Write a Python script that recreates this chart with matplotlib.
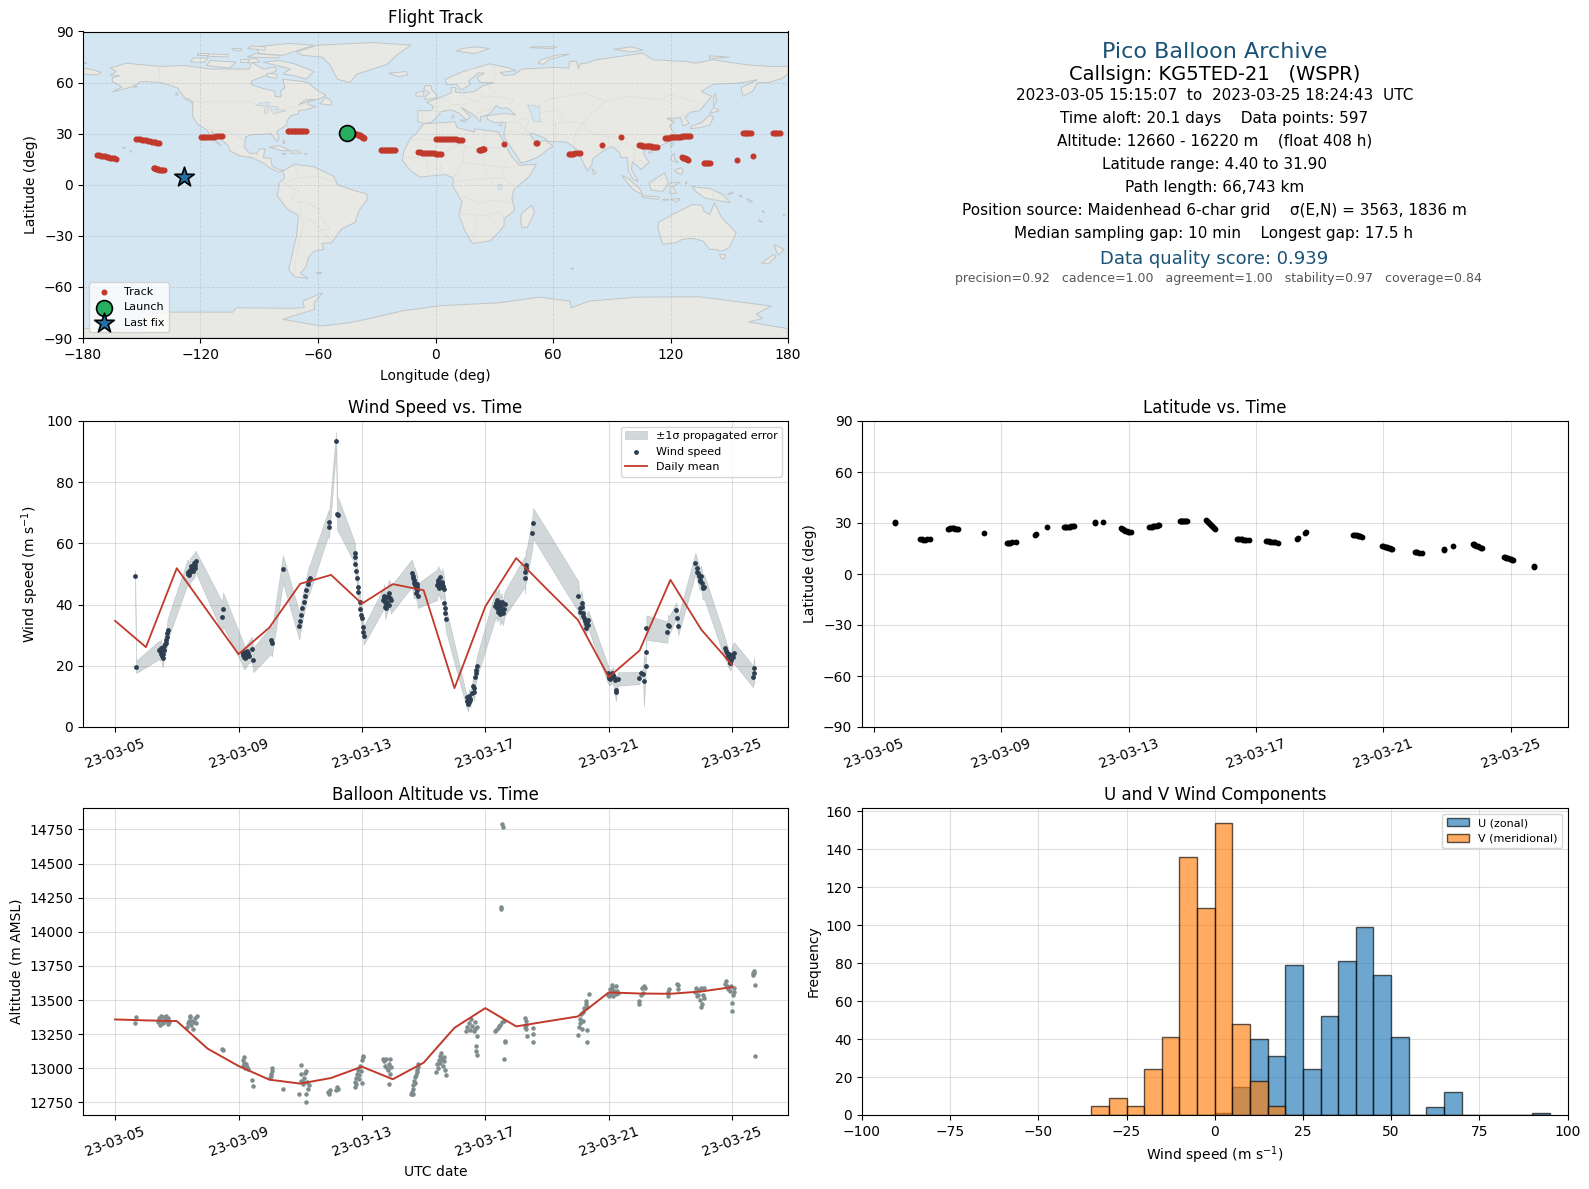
from datetime import datetime, timedelta

import matplotlib
matplotlib.use("Agg")
import matplotlib.dates as mdates
import matplotlib.pyplot as plt
from matplotlib.patches import Polygon

W, H = 1589, 1189
START = datetime(2023, 3, 5)

# ---- land outlines (lon, lat)
LAND = [
    # north america
    [(-166, 64.5), (-163, 66.5), (-166, 68.5), (-158, 71.4), (-141, 69.5), (-128, 70), (-115, 68), (-108, 68), (-95, 68),
     (-94, 72), (-88, 68), (-82, 69), (-81, 67), (-87, 64), (-94, 61), (-94, 58.8), (-88, 56.5), (-82, 55), (-82, 52),
     (-79, 51.5), (-79, 55), (-77, 57), (-78, 62), (-70, 61), (-65, 60), (-61, 56), (-56, 52.5), (-60, 50), (-66, 50),
     (-70, 47), (-65, 49), (-65, 47), (-61, 46), (-66, 44), (-70, 43.5), (-70, 41.7), (-74, 40.5), (-76, 37), (-76, 35),
     (-81, 31.5), (-80, 27), (-81, 25.3), (-82, 27), (-84, 30), (-90, 29.5), (-94, 29.5), (-97, 28), (-97.5, 22),
     (-95, 18.5), (-91, 18.5), (-90, 21), (-87, 21), (-88, 16), (-84, 15.5), (-83.5, 11), (-80, 9), (-77, 8.5), (-80, 7.5),
     (-85, 10), (-88, 13), (-94, 16), (-100, 17), (-105, 20), (-106, 23), (-112, 29), (-114.5, 31.5), (-113, 28), (-109.7, 22.8),
     (-112, 25), (-115, 29), (-117, 32.5), (-121, 35), (-124, 40), (-124, 48), (-128, 51), (-132, 57), (-140, 60),
     (-150, 60.7), (-155, 57.5), (-165, 54.5), (-160, 57.5), (-165, 60.5), (-165, 63), (-161, 64)],
    # greenland
    [(-71, 78), (-60, 82), (-32, 83.5), (-12.5, 82), (-20, 76), (-25, 70.5), (-32, 68), (-40, 65), (-44, 60), (-50, 62), (-54, 70.5), (-58, 75), (-68, 76)],
    # arctic canada, newfoundland, caribbean, hawaii
    [(-80, 73), (-72, 71), (-62, 66.5), (-66, 62), (-72, 64), (-78, 65), (-74, 68), (-88, 72)],
    [(-117, 70), (-105, 68.5), (-102, 72), (-115, 73)],
    [(-90, 77), (-78, 76), (-62, 82), (-75, 83), (-92, 81)],
    [(-125, 72), (-118, 72), (-116, 74.5), (-124, 74.5)],
    [(-96, 75), (-80, 74.5), (-80, 76), (-92, 77)],
    [(-117, 75.5), (-106, 75), (-106, 76.5), (-116, 76.8)],
    [(-96, 80), (-87, 79), (-87, 81), (-94, 81.5)],
    [(-103, 79), (-99, 78.5), (-99, 80), (-104, 80)],
    [(-100, 72), (-96, 72), (-96, 74), (-100, 74)],
    [(-96, 71.5), (-90, 72), (-91, 74), (-95, 74)],
    [(-86, 63.5), (-81, 62.5), (-81, 65), (-86, 65.5)],
    [(-122, 76), (-116, 76), (-116, 77.5), (-122, 77.5)],
    [(-59, 47.5), (-53, 46.8), (-53, 49), (-56, 51.5)],
    [(-64.5, 49), (-62, 49.5), (-64, 50)],
    [(-128, 50.5), (-125, 48.5), (-123.5, 48.5), (-126, 50.5)],
    [(-133, 53), (-131.5, 52.5), (-132, 54)],
    [(-85, 22), (-80, 23), (-74, 20), (-78, 20)],
    [(-74, 18.5), (-68.5, 18.5), (-70, 20), (-73, 20)],
    [(-78.5, 18), (-76.2, 18), (-77, 18.6)],
    [(-67, 18), (-65.5, 18), (-66, 18.5)],
    [(-78, 25), (-77, 24), (-77.5, 26.5)],
    [(-156, 19), (-155, 19.7), (-156, 20.2)],
    [(-159.8, 21.8), (-158, 21.3), (-158.5, 22)],
    [(-154, 57.3), (-152.3, 57.5), (-153, 58.2)],
    # south america
    [(-78, 8), (-72, 12), (-62, 10.5), (-52, 5), (-50, 0), (-44, -2.5), (-35, -5.5), (-35, -9), (-39, -15), (-41, -22),
     (-48, -26), (-53, -34), (-58, -34.5), (-57, -38), (-62, -39), (-65, -43), (-66, -48), (-69, -52), (-65, -55), (-72, -54),
     (-75, -50), (-73, -40), (-71, -30), (-70, -18), (-76, -14), (-81, -6), (-80, -2), (-80, 1), (-77, 4)],
    # africa, madagascar
    [(-6, 35.8), (10, 37), (11, 33.5), (20, 31), (20, 32.8), (32, 31), (32.7, 29.4), (34, 27), (36, 23), (38, 18), (40, 15),
     (43, 11.5), (51.5, 12), (48, 5), (40, -3), (39, -8), (40.5, -15), (35, -20), (35, -24), (33, -27), (28, -33), (19, -34.5),
     (18, -33), (15, -27), (12, -18), (13.5, -10), (9, -1), (9, 4), (5, 6), (-4, 5), (-8, 4.5), (-13, 8.5), (-17, 14.5),
     (-16, 20), (-13, 27), (-10, 30)],
    [(49, -12), (50.6, -16), (47, -25), (44, -25), (43.5, -20), (44, -17)],
    # eurasia
    [(-9, 37), (-9, 43.5), (-2, 43.5), (-1, 46), (-4.5, 48.5), (2, 51), (8, 54), (8, 57), (10.5, 57), (10, 54.5), (14, 54),
     (20, 54.8), (24, 58), (30, 60), (23, 60), (21, 63), (25, 65.5), (22, 65.8), (17, 61), (18, 59), (13, 55.5), (11, 59),
     (5.5, 58.7), (5, 62), (14, 66.5), (27.6, 71), (38, 68.5), (41, 67), (33, 66), (35, 64.3), (40, 64.5), (44, 68), (54, 68.5), (60, 69), (68, 68.5),
     (68.5, 72.4), (72, 72.5), (73, 68), (74, 71), (77, 71.4), (82, 73.4), (106, 77.3), (111, 73.4), (128, 72.4), (133, 71.4),
     (141.6, 73.4), (158.6, 70.5), (170, 69.5), (180, 69.5), (180, 65), (177, 62.5), (170, 60), (164.5, 60), (162, 55), (157, 52),
     (156, 57), (164.5, 61.7), (155, 59.7), (142, 59), (135.6, 54.8), (141, 52), (135, 43.5), (130, 42.5), (127.5, 39.5),
     (129.5, 36), (126.5, 34.5), (125, 39.5), (121.5, 39), (118, 39), (122, 37), (119.5, 34.5), (122, 30), (119, 25), (113, 22),
     (108, 21.5), (106, 19), (109, 13), (105, 9), (100.5, 13.5), (100, 9), (103.5, 2), (101, 3), (98.5, 8), (98, 16), (94.5, 16),
     (94, 19), (90, 22.5), (87, 21), (80, 15), (80, 12), (77.5, 8), (73, 19), (72, 21), (67, 25), (57, 25.5), (56.5, 27), (50, 30),
     (48, 30), (51, 25), (56, 26), (60, 22.8), (52, 16), (45, 13), (43.5, 13), (42, 16), (38.5, 22), (35, 28), (35, 31), (36, 36.5),
     (30, 36.5), (26.5, 38.5), (26, 40.5), (29, 41), (35, 42), (41, 41), (37, 45), (33, 45), (31, 46.5), (28, 42), (26, 40.8),
     (23, 40), (23, 37), (19.5, 41), (13, 45.5), (18, 40), (16, 38), (12, 42), (8, 44), (3, 43), (0, 39), (-2, 36.8), (-6, 36)],
    # chukotka past the date line, wrangel
    [(-180, 68.5), (-175, 67.5), (-170.6, 66), (-173, 64.5), (-180, 65)],
    [(-180, 71), (-178, 71.5), (-180, 71.5)],
    # europe and north asia islands
    [(-5.5, 50), (1, 51), (0, 53.5), (-2, 56), (-2, 58), (-5, 58.5), (-6, 56), (-3, 54), (-5, 52)],
    [(-10, 52), (-6, 52), (-6, 55), (-10, 54)],
    [(-24, 65.5), (-15, 66.5), (-14, 64.5), (-19, 63.5)],
    [(10.6, 78.5), (20, 77), (27.6, 80), (20, 81), (14, 80)],
    [(48, 80.5), (60, 80), (62, 81), (50, 81)],
    [(52.3, 71.4), (55.5, 70.8), (58, 73.5), (68.5, 76.7), (62, 76.2), (54, 73.5)],
    [(91, 79.5), (100, 78), (106, 79), (100, 81)],
    [(140, 74), (150, 75), (140, 75.7)],
    [(142, 46), (143.5, 49), (143, 54), (142, 52)],
    [(130, 33), (135, 33.5), (140, 35), (142, 39.5), (140, 41), (136, 36.5), (131, 34.5)],
    [(140, 42), (145, 43.5), (142, 45.5)],
    [(8.5, 39), (9.7, 39.5), (9.3, 41), (8.3, 40.8)],
    [(12.5, 38), (15.5, 38), (15, 36.7)],
    [(32.5, 34.7), (34, 35), (33, 35.4)],
    # southeast asia, oceania
    [(120.2, 22), (121.8, 24), (121, 25.2), (120, 23.5)],
    [(108.7, 18.5), (110.8, 19), (110, 20), (108.8, 19.5)],
    [(120, 16), (122, 18.5), (122, 15), (124, 13), (121, 13.8)],
    [(122, 8), (125.5, 6), (126.5, 8), (125.5, 10), (123, 9)],
    [(95, 5.5), (98, 4), (104, -2), (106, -6), (101, -3)],
    [(105, -6.5), (114, -7), (114, -8.5), (106, -7.5)],
    [(116, -8.7), (119, -8.5), (119, -9), (116, -9)],
    [(120, -8.5), (125, -8.2), (123, -10.2)],
    [(109, 1), (117, 7), (119, 1), (116, -4), (110, -3)],
    [(119.5, -5), (120, 1), (125, 1.5), (121, -1), (123, -5)],
    [(127.5, 1), (128.5, 2), (128, 0)],
    [(131, -1), (141, -2.5), (147, -6), (150.5, -10.5), (143, -9), (138, -8), (133, -4)],
    [(149, -6), (152, -5), (152, -4), (150, -5)],
    [(155, -6), (157, -7), (155.5, -7)], [(159, -8), (162, -10), (160, -10)],
    [(165, -20.5), (167, -22), (165.5, -21.5)], [(167, -15), (168, -16.5), (167.3, -16)], [(177.5, -17.5), (178.5, -18), (177.7, -18.2)],
    [(69.2, -49), (70.5, -49), (70, -49.7)],
    [(80, 9.5), (82, 7), (80.5, 6)],
    [(113.5, -25.3), (114, -22), (121, -17.5), (127, -14), (131.4, -11.6), (136, -12), (137, -15.5), (140, -17.5), (142.4, -10.6),
     (146, -19), (153.5, -28.2), (150, -37), (146, -39), (143, -38), (140, -38), (136.5, -33), (131, -31.5), (126, -32),
     (123, -34), (116, -35), (115, -31)],
    [(145, -41), (148, -41), (147.5, -43.5), (146, -43.5)],
    [(173, -35), (178, -38), (175, -41.5), (174, -39)],
    [(172.5, -41), (174, -42), (170, -46.5), (166.5, -46)],
    [(-61, -51.5), (-58, -51.5), (-59, -52.3)],
    # antarctica
    [(-180, -90), (-180, -84.5), (-150, -85), (-148, -77), (-136, -74.8), (-103.5, -74.8), (-101.8, -72.2), (-74.6, -72.6),
     (-67, -72.2), (-67.8, -68.3), (-57.6, -63.4), (-62, -69.3), (-61.8, -73.2), (-78, -79), (-58.4, -83), (-44, -81),
     (-35.4, -79), (-16.7, -74), (3, -71), (32.7, -69.3), (53, -66), (68.5, -68.3), (69.3, -72.2), (78.7, -68.3), (102.5, -66),
     (134.8, -65.8), (171.4, -71.2), (163.7, -76), (167, -78.5), (160, -80.6), (180, -84.5), (180, -90)],
]
LAKES = [
    [(47, 47), (53, 46), (53, 40), (54, 37), (50, 37), (49, 41)],
    [(-92, 47), (-85, 47), (-85, 48.5), (-89, 48.5)],
    [(-87.5, 42), (-86, 42), (-85, 46), (-87, 45.5)],
    [(-84, 43.5), (-80, 44.5), (-81, 46), (-84, 46)],
    [(-83, 41.7), (-76.5, 43.3), (-79, 43.8), (-82, 42.8)],
    [(32, -2.8), (34, -2.5), (34, 0.3), (32, 0.2)],
]
BORDERS = [
    [(-124, 49), (-95, 49), (-83, 42.5), (-75, 45), (-67, 47)],
    [(-141, 69.7), (-141, 60)],
    [(-117, 32.5), (-106, 31.5), (-97.5, 26)],
    [(-92, 14.5), (-91, 18)],
    [(-72, 12), (-70, 4), (-78, 1), (-70, -4), (-74, -8), (-69, -11), (-69, -18), (-62, -22), (-58, -27), (-54, -26), (-58, -20), (-60, -14), (-66, -10), (-70, -10)],
    [(-70, 4), (-60, 5), (-52, 2)],
    [(-70, -18), (-67, -23), (-71, -40), (-72, -52)],
    [(-58, -27), (-53, -33)],
    [(-8, 27), (-13, 27)], [(-8, 27), (12, 23.5), (25, 20), (25, 31.5)],
    [(-17, 16), (-5, 16), (4, 19), (12, 23.5)],
    [(-5, 16), (-3, 5)], [(3, 12), (2, 6)], [(15, 23), (14, 13), (9, 4)], [(14, 13), (24, 12), (34, 10), (43, 11)],
    [(25, 20), (24, 12), (28, 4), (30, -1)], [(34, 22), (25, 22)], [(37, 15), (34, 10), (35, 4), (41, -2)],
    [(9, 2), (18, 3), (30, 4), (35, 4)], [(13, -6), (22, -11), (30, -9), (40, -11)], [(12, -17), (24, -18), (33, -16), (35, -20)],
    [(20, -18), (20, -29), (17, -29)], [(25, -18), (30, -22), (32, -26)],
    [(3, 51), (7, 49), (8, 47), (13, 47), (17, 48), (22, 49), (24, 52), (23, 54)],
    [(-2, 43.5), (3, 42.5)], [(-7, 42), (-7, 37)], [(7, 44), (7, 47)], [(14, 54), (15, 51), (22, 49)],
    [(24, 52), (31, 52), (40, 50), (38, 47)], [(28, 56), (32, 53)], [(28, 56), (28, 60)], [(21, 42), (29, 45)],
    [(30, 70), (30, 62)], [(15, 66), (20, 69)], [(36, 36.5), (42, 37), (45, 39)], [(42, 37), (48, 30)], [(46, 39), (48, 38)],
    [(39, 32), (35, 30)], [(39, 32), (48, 29)], [(48, 38), (46, 33), (48, 30)], [(61, 36), (61, 25)], [(61, 36), (71, 37), (75, 36), (71, 28), (71, 24)],
    [(53, 42), (62, 44), (66, 37)], [(50, 45), (60, 51), (76, 54), (87, 49), (98, 52), (115, 50), (120, 53), (135, 48), (131, 43)],
    [(87, 49), (80, 42), (75, 36), (80, 30), (88, 28), (97, 28), (98, 24), (102, 21), (108, 21.5)],
    [(97, 28), (93, 22)], [(102, 21), (101, 14)], [(88, 28), (88, 22)], [(125, 40), (130, 42.5)], [(126, 38), (128.5, 38.5)],
    [(101, 14), (105, 14.5), (107, 12)], [(141, -2.5), (141, -9)], [(110, 1), (117, 4)],
]

# ---- track (lon, lat) by segment
track_lon = [-41, -40.5, -40, -39.6, -39.2, -38.8, -38.5, -38.1, -37.8, -37.5, -37.2, -36.9, -36.6,
             -28, -27.2, -26.5, -25.8, -25, -24.2, -23.5, -22.8, -22, -21.2, -20.5,
             -9, -8, -7, -6, -5, -4, -3, -2, -1, 0, 1, 2, 3,
             0.5, 1.5, 2.5, 3.5, 4.5, 5.5, 6.5, 7.5, 8.5, 9.5, 10.5, 11.5, 12.5, 13.5,
             22, 22.5, 23, 23.5, 24, 24.5, 25, 35, 52, 51.5,
             68, 68.8, 69.5, 70.2, 71, 73, 74, 85, 94.5,
             104, 104.8, 105.5, 106.2, 107, 107.8, 108.5, 109.2, 110, 110.8, 111.5, 112.2, 113,
             117, 117.8, 118.5, 119.2, 120, 120.8, 121.5, 122.2, 123, 123.8, 124.5, 125.2, 126, 126.8, 127.5, 128.2, 129, 130,
             126, 126.5, 127, 127.5, 128, 128.5, 129, 137, 137.8, 138.5, 139.2, 140, 154, 162,
             157, 157.8, 158.5, 159.2, 160, 161, 172.5, 173.2, 174, 175, 176,
             -153, -152, -151, -150, -149, -148, -147, -146, -145, -144, -143, -142, -141,
             -173, -172, -171, -170, -169, -168, -167, -166, -165, -164, -163,
             -144, -143.5, -143, -142.5, -142, -141.5, -141, -140.2, -139.5, -138.5,
             -119.5, -118.7, -118, -117, -116, -115, -114, -113, -112, -111, -110, -109,
             -75.5, -74.7, -74, -73.2, -72.5, -71.7, -71, -70.2, -69.5, -68.7, -68, -67, -66]
track_lat = [30, 29.9, 29.7, 29.5, 29.3, 29.1, 28.9, 28.7, 28.4, 28.1, 27.8, 27.5, 27.2,
             20.3, 20.3, 20.3, 20.2, 20.2, 20.3, 20.3, 20.2, 20.2, 20.3, 20.3,
             19, 19, 18.9, 18.8, 18.7, 18.7, 18.6, 18.5, 18.4, 18.3, 18.2, 18.1, 18,
             26.8, 26.9, 26.9, 26.8, 26.8, 26.8, 26.8, 26.7, 26.7, 26.7, 26.6, 26.5, 26.4, 26,
             20.4, 20.5, 20.7, 20.8, 21, 21.1, 21.2, 24.2, 24.5, 24.4,
             18, 18, 18.1, 18.2, 18.4, 18.6, 18.6, 23.2, 28,
             23.2, 23.1, 23, 22.9, 22.8, 22.8, 22.7, 22.6, 22.5, 22.4, 22.3, 22.1, 22,
             27.5, 27.5, 27.6, 27.7, 27.8, 27.9, 28, 28, 28.1, 28.1, 28.2, 28.3, 28.4, 28.4, 28.5, 28.5, 28.6, 28.7,
             16.3, 16, 15.8, 15.5, 15.2, 15, 14.7, 13, 13, 12.9, 12.9, 13, 14.5, 16.6,
             30.3, 30.3, 30.3, 30.3, 30.3, 30.2, 30.3, 30.3, 30.3, 30.2, 30.2,
             27, 26.9, 26.7, 26.4, 26.2, 26, 25.8, 25.6, 25.3, 25.1, 25, 24.8, 24.6,
             17.5, 17.3, 17.1, 16.9, 16.7, 16.4, 16.2, 16, 15.8, 15.5, 15.2,
             10, 9.8, 9.6, 9.4, 9.2, 9, 8.9, 8.7, 8.6, 8.4,
             28, 28, 28, 28.1, 28.1, 28.2, 28.2, 28.3, 28.4, 28.5, 28.7, 28.9,
             31.5, 31.5, 31.5, 31.5, 31.5, 31.5, 31.5, 31.4, 31.4, 31.5, 31.5, 31.4, 31.4]
launch_lon, launch_lat = -45, 30.3
last_lon, last_lat = -128.5, 4.5

# ---- wind speed with its 1 sigma, days since 03-05
wind_days = [0.65, 0.68, 1.43, 1.46, 1.49, 1.52, 1.55, 1.58, 1.61, 1.64, 1.67, 1.69, 1.70,
             2.35, 2.40, 2.44, 2.49, 2.53, 2.58, 2.61, 3.47, 3.50,
             4.13, 4.17, 4.22, 4.27, 4.31, 4.43, 4.48, 5.06, 5.08, 5.44,
             5.97, 6.00, 6.04, 6.07, 6.12, 6.16, 6.19, 6.24, 6.28, 6.31, 6.92, 6.93, 7.16, 7.20, 7.23,
             7.76, 7.78, 7.79, 7.82, 7.85, 7.87, 7.88, 7.93, 7.94, 7.97, 8.00, 8.03, 8.05, 8.06,
             8.68, 8.73, 8.76, 8.80, 8.85, 8.89, 8.94, 9.62, 9.65, 9.68, 9.71, 9.74, 9.77, 9.80, 9.81,
             10.44, 10.47, 10.52, 10.56, 10.61, 10.66, 10.67, 10.69, 10.70, 10.72,
             11.39, 11.44, 11.47, 11.51, 11.56, 11.60, 11.64, 11.68, 11.71, 11.73,
             12.34, 12.39, 12.43, 12.48, 12.52, 12.57, 12.63, 13.28, 13.29, 13.31, 13.32, 13.52, 13.55,
             15.01, 15.06, 15.12, 15.16, 15.21, 15.25, 15.30, 15.34,
             15.96, 16.02, 16.08, 16.14, 16.22, 16.23, 16.29, 16.99, 17.05, 17.11, 17.14, 17.20, 17.21, 17.22,
             17.90, 17.92, 17.95, 18.19, 18.22, 18.25, 18.81, 18.85, 18.90, 18.95, 18.99, 19.04, 19.10,
             19.76, 19.82, 19.88, 19.94, 20.00, 20.06, 20.68, 20.71, 20.72]
wind_speed = [49.2, 19.6, 25.2, 24.7, 25.8, 23.3, 22.5, 25.2, 27.0, 27.6, 29.4, 30.7, 31.8,
              50.8, 49.7, 51.4, 51.9, 52.4, 53.0, 54.1, 35.9, 38.5,
              24.2, 23.0, 22.5, 23.6, 24.2, 25.5, 21.9, 28.5, 27.4, 51.6,
              33.0, 34.8, 36.7, 38.8, 41.0, 42.7, 44.8, 46.7, 48.1, 48.6, 66.9, 65.3, 93.4, 69.6, 69.4,
              57.0, 55.7, 53.2, 51.1, 48.6, 45.9, 44.0, 41.0, 38.5, 36.7, 35.6, 32.6, 31.2, 29.9,
              41.6, 42.7, 39.2, 41.0, 42.7, 43.7, 41.6, 50.3, 48.6, 47.0, 47.2, 46.5, 45.9, 44.8, 42.9,
              46.5, 48.1, 47.0, 45.9, 47.3, 45.0, 40.5, 38.9, 37.2, 35.3,
              8.4, 7.6, 10.0, 8.9, 11.1, 13.3, 11.6, 16.5, 18.7, 19.8,
              40.5, 38.9, 41.0, 37.8, 39.4, 37.2, 40.3, 50.8, 48.6, 53.0, 52.0, 63.3, 66.6,
              42.7, 38.9, 40.5, 37.2, 35.6, 32.3, 34.5, 35.0,
              17.6, 16.0, 16.5, 17.0, 12.2, 11.6, 15.7, 16.0, 17.6, 17.4, 15.1, 19.8, 24.5, 32.5,
              31.0, 33.4, 32.9, 38.3, 35.6, 32.9, 53.5, 51.9, 50.3, 48.1, 49.2, 45.9, 45.6,
              25.8, 24.2, 22.5, 20.9, 23.6, 24.2, 16.5, 19.3, 17.6]
wind_sigma = [2.0, 2.0, 3.0, 3.0, 3.0, 3.0, 3.0, 3.0, 3.0, 3.5, 3.5, 3.5, 3.5,
              4.0, 4.0, 4.0, 4.0, 4.0, 4.0, 3.5, 5.0, 5.5,
              4.0, 4.0, 3.5, 3.5, 3.5, 4.0, 4.0, 4.5, 4.5, 4.5,
              4.5, 4.0, 4.0, 4.0, 4.0, 4.0, 4.0, 4.0, 4.5, 4.5, 4.0, 4.0, 3.0, 5.5, 5.5,
              3.5, 3.5, 3.5, 3.5, 3.5, 3.0, 3.0, 3.0, 3.0, 3.0, 3.0, 3.0, 3.0, 3.0,
              3.5, 4.0, 4.0, 4.0, 4.5, 4.5, 4.5, 4.5, 5.0, 5.0, 5.0, 4.5, 4.5, 4.5, 4.0,
              5.0, 4.5, 4.5, 4.5, 4.5, 4.0, 4.0, 4.0, 4.0, 4.0,
              2.0, 2.5, 2.5, 2.5, 2.5, 3.0, 3.0, 3.0, 3.5, 3.5,
              4.5, 4.5, 4.5, 4.5, 4.5, 4.0, 4.0, 5.0, 5.0, 5.0, 5.0, 5.0, 5.0,
              5.0, 4.0, 4.0, 4.0, 4.0, 2.5, 3.0, 3.0,
              3.0, 2.5, 2.5, 2.5, 3.0, 3.0, 2.2, 2.0, 1.2, 1.0, 8.5, 2.0, 2.5, 4.0,
              3.5, 3.5, 3.0, 2.5, 3.0, 3.0, 3.5, 3.5, 3.5, 3.5, 3.5, 4.0, 4.0,
              3.5, 3.0, 3.0, 2.5, 3.0, 3.5, 3.5, 3.5, 3.5]
# dots packed inside the dense clusters
dense_days = [1.50, 1.54, 1.60, 1.66, 2.37, 2.42, 2.46, 2.51, 2.56, 2.60, 4.15, 4.20, 4.24, 4.29, 4.34,
              8.70, 8.75, 8.78, 8.82, 8.87, 8.91, 8.78, 9.66, 9.70, 9.73, 9.76, 9.79, 9.75,
              10.45, 10.50, 10.54, 10.58, 10.63, 10.49, 11.42, 11.46, 11.50, 11.62, 11.69,
              12.32, 12.37, 12.41, 12.45, 12.50, 12.54, 12.59, 12.47, 12.42,
              15.08, 15.14, 15.18, 15.23, 15.27, 15.32, 16.00, 16.05, 16.10, 16.16, 16.19,
              18.87, 18.92, 18.97, 19.02, 19.07, 19.80, 19.85, 19.90, 19.97, 20.03, 19.92]
dense_speed = [24.0, 23.8, 26.5, 28.5, 50.0, 50.5, 52.5, 51.0, 53.5, 52.0, 23.5, 24.5, 22.8, 24.8, 23.2,
               42.0, 41.0, 40.0, 42.5, 39.8, 42.2, 38.9, 49.5, 48.0, 46.3, 45.5, 46.8, 43.8,
               47.5, 46.0, 49.0, 47.0, 46.2, 45.5, 9.8, 8.2, 9.3, 12.6, 17.5,
               39.5, 41.5, 37.5, 39.8, 38.2, 40.8, 38.5, 36.8, 40.0,
               37.5, 39.3, 36.2, 34.5, 33.8, 33.2, 16.8, 15.6, 17.8, 16.2, 15.5,
               50.8, 49.5, 47.8, 47.0, 45.3, 25.0, 23.2, 24.0, 21.8, 22.8, 21.2]
mean_days = [0, 1, 2, 3, 4, 5, 6, 7, 8, 9, 10, 11, 12, 13, 14, 15, 16, 17, 18, 19, 20]
wind_mean = [34.7, 26.1, 51.9, 37.8, 23.8, 32.5, 46.8, 49.7, 40.3, 46.7, 44.7, 12.7, 39.4, 55.2, 45.0, 35.0, 16.3, 25.0, 48.1, 31.8, 20.3]

# ---- latitude
lat_days = [0.66, 0.68, 1.44, 1.50, 1.56, 1.62, 1.68, 1.76, 2.32, 2.36, 2.40, 2.44, 2.48, 2.52, 2.56, 2.60, 2.63, 3.47, 4.17, 4.21, 4.25, 4.29, 4.33, 4.48,
            5.06, 5.08, 5.43, 5.96, 6.00, 6.04, 6.08, 6.12, 6.16, 6.20, 6.25, 6.30, 6.93, 6.94, 7.19, 7.75, 7.79, 7.82, 7.86, 7.90, 7.94, 7.98, 8.02, 8.06,
            8.65, 8.69, 8.72, 8.76, 8.80, 8.84, 8.88, 8.92, 8.96, 9.60, 9.63, 9.66, 9.69, 9.72, 9.75, 9.78, 9.81, 9.84,
            10.44, 10.47, 10.50, 10.53, 10.56, 10.59, 10.62, 10.65, 10.68, 10.72,
            11.40, 11.44, 11.48, 11.52, 11.56, 11.60, 11.64, 11.70, 11.77, 12.32, 12.36, 12.40, 12.45, 12.50, 12.55, 12.60, 12.68, 13.29, 13.31, 13.55, 13.56,
            15.05, 15.08, 15.12, 15.16, 15.20, 15.24, 15.27, 15.33, 15.96, 16.00, 16.04, 16.08, 16.12, 16.16, 16.20, 16.24, 16.28, 16.98, 17.01, 17.05, 17.12, 17.20,
            17.90, 17.91, 18.20, 18.80, 18.83, 18.86, 18.89, 18.92, 18.96, 19.00, 19.05, 19.10, 19.78, 19.81, 19.84, 19.88, 19.92, 19.96, 20.00, 20.04, 20.08, 20.72, 20.74]
lat_values = [30.6, 30.0, 20.8, 20.4, 20.2, 20.2, 20.4, 20.7, 26.2, 26.6, 26.9, 27.0, 27.0, 26.9, 26.7, 26.5, 26.2, 24.3, 18.2, 18.2, 18.3, 18.5, 18.6, 19.0,
              22.7, 23.4, 27.6, 27.5, 27.5, 27.6, 27.7, 27.8, 27.9, 28.0, 28.2, 28.4, 30.0, 30.7, 30.6, 26.9, 26.5, 26.2, 25.9, 25.5, 25.1, 24.8, 24.6, 24.5,
              27.4, 27.6, 27.8, 28.0, 28.2, 28.3, 28.5, 28.6, 28.8, 31.2, 31.2, 31.2, 31.2, 31.2, 31.2, 31.1, 31.2, 31.2,
              31.8, 31.2, 30.6, 30.0, 29.5, 29.0, 28.5, 27.9, 27.3, 26.3,
              20.6, 20.5, 20.4, 20.3, 20.3, 20.2, 20.2, 20.1, 20.0, 19.4, 19.3, 19.2, 19.0, 18.9, 18.8, 18.6, 18.2, 20.4, 21.1, 23.9, 24.7,
              23.1, 23.0, 22.9, 22.8, 22.6, 22.4, 22.2, 21.6, 16.5, 16.3, 16.1, 15.9, 15.6, 15.4, 15.2, 15.0, 14.7, 12.9, 12.9, 12.9, 12.6, 12.2,
              13.9, 14.7, 16.5, 17.6, 17.4, 17.1, 16.8, 16.5, 16.2, 15.8, 15.4, 15.1, 10.0, 9.8, 9.6, 9.4, 9.2, 9.0, 8.7, 8.4, 8.2, 4.8, 4.2]

# ---- altitude
alt_days = [0.65, 0.68, 1.40, 1.43, 1.46, 1.49, 1.52, 1.55, 1.58, 1.61, 1.64, 1.67, 1.70, 1.72, 1.74,
            2.33, 2.36, 2.39, 2.42, 2.44, 2.47, 2.50, 2.53, 2.55, 2.58, 2.61, 2.64, 3.46, 3.49,
            4.13, 4.15, 4.17, 4.19, 4.22, 4.25, 4.27, 4.30, 4.43, 4.48, 5.03, 5.05, 5.07, 5.08, 5.06, 5.44,
            5.97, 6.03, 6.04, 6.02, 6.09, 6.10, 6.13, 6.16, 6.20, 6.18, 6.19, 6.25, 6.27, 6.23,
            6.90, 6.92, 6.94, 6.96, 7.17, 7.20, 7.22,
            7.76, 7.78, 7.80, 7.82, 7.85, 7.88, 7.90, 7.92, 7.95, 7.97, 8.00, 8.02, 8.03, 8.00,
            8.68, 8.72, 8.76, 8.78, 8.82, 8.85, 8.87, 8.90, 8.88, 8.93, 8.91,
            9.60, 9.62, 9.65, 9.67, 9.69, 9.71, 9.73, 9.75, 9.77, 9.79, 9.81, 9.83, 9.63, 9.66,
            10.41, 10.44, 10.47, 10.49, 10.52, 10.54, 10.57, 10.60, 10.63, 10.66, 10.67, 10.68, 10.72,
            11.38, 11.42, 11.46, 11.50, 11.54, 11.58, 11.62, 11.65, 11.68, 11.72, 11.73, 11.69, 11.70, 11.73,
            12.32, 12.36, 12.40, 12.44, 12.48, 12.53, 12.50, 12.51, 12.55, 12.56, 12.63, 12.65, 12.60, 12.62,
            13.28, 13.30, 13.31, 13.32, 13.33, 13.34, 13.55, 13.55, 13.56,
            15.01, 15.04, 15.06, 15.08, 15.10, 15.12, 15.15, 15.18, 15.21, 15.25, 15.27, 15.29, 15.31, 15.29, 15.36,
            15.96, 16.00, 16.03, 16.06, 16.09, 16.12, 16.15, 16.18, 16.22, 16.24, 16.28, 16.30,
            16.97, 16.99, 17.04, 17.08, 17.11, 17.13, 17.16, 17.92, 17.93, 17.94, 18.21, 18.24, 18.26,
            18.80, 18.83, 18.86, 18.90, 18.93, 18.96, 18.99, 19.00, 19.02, 19.05, 19.08, 19.10,
            19.76, 19.80, 19.83, 19.88, 19.92, 19.96, 19.98, 19.98, 20.02, 20.05, 20.07,
            20.66, 20.68, 20.70, 20.72, 20.73, 20.73]
alt_values = [13330, 13378, 13340, 13365, 13320, 13380, 13350, 13330, 13375, 13345, 13385, 13360, 13325, 13370, 13340,
              13300, 13330, 13345, 13375, 13385, 13320, 13350, 13290, 13340, 13370, 13335, 13380, 13144, 13135,
              13020, 13060, 13085, 13040, 13000, 13030, 13010, 12995, 12912, 12868, 12930, 12960, 13000, 12980, 12945, 12846,
              12815, 13024, 12956, 12907, 12883, 12900, 12932, 12968, 12980, 12810, 12751, 12846, 12880, 12900,
              12830, 12815, 12825, 12838, 12840, 12860, 12850,
              12860, 12900, 12930, 12885, 12960, 12990, 12920, 12950, 13020, 12980, 13060, 13080, 13090, 12895,
              13070, 13050, 13020, 13065, 13000, 12990, 13030, 12960, 12883, 13010, 13066,
              12815, 12830, 12850, 12875, 12905, 12890, 12935, 12950, 12975, 12990, 13010, 13030, 12815, 12815,
              12970, 13030, 13000, 13060, 13090, 13040, 13110, 13070, 13020, 13050, 13080, 12990, 12950,
              13270, 13300, 13330, 13280, 13360, 13310, 13270, 13340, 13290, 13300, 13240, 13160, 13130, 13100,
              13270, 13280, 13295, 13310, 13320, 13340, 14182, 14170, 14790, 14770, 13195, 13200, 13066, 13350,
              13300, 13370, 13345, 13320, 13285, 13240, 13295, 13250, 13195,
              13245, 13300, 13360, 13330, 13395, 13290, 13345, 13410, 13445, 13470, 13490, 13450, 13280, 13195, 13541,
              13540, 13530, 13580, 13550, 13590, 13610, 13530, 13570, 13545, 13600, 13565, 13550,
              13470, 13490, 13540, 13590, 13550, 13600, 13590, 13530, 13560, 13580, 13620, 13610, 13580,
              13560, 13590, 13530, 13540, 13575, 13500, 13590, 13450, 13470, 13540, 13590, 13515,
              13620, 13640, 13600, 13580, 13565, 13600, 13480, 13420, 13540, 13590, 13560,
              13680, 13700, 13695, 13710, 13610, 13090]
alt_mean = [13358, 13351, 13346, 13144, 13017, 12917, 12888, 12929, 13012, 12920, 13041, 13297, 13441, 13307, 13344, 13380, 13556, 13548, 13546, 13563, 13595]

# ---- histogram counts on 5 m/s bins
bin_left = [-35, -30, -25, -20, -15, -10, -5, 0, 5, 10, 15, 20, 25, 30, 35, 40, 45, 50, 55, 60, 65, 70, 75, 80, 85, 90]
u_counts = [0, 0, 0, 0, 0, 0, 0, 1, 15, 40, 31, 79, 24, 52, 81, 99, 74, 41, 0, 4, 12, 0, 0, 0, 0, 1]
v_counts = [5, 9, 5, 24, 41, 136, 109, 154, 48, 18, 5, 0, 0, 0, 0, 0, 0, 0, 0, 0, 0, 0, 0, 0, 0, 0]

tick_days = [0, 4, 8, 12, 16, 20]
summary = [
    ("Pico Balloon Archive", 1215, 52, 16, "#1a5276"),
    ("Callsign: KG5TED-21   (WSPR)", 1215, 74, 14, "black"),
    ("2023-03-05 15:15:07  to  2023-03-25 18:24:43  UTC", 1215, 95, 11, "black"),
    ("Time aloft: 20.1 days    Data points: 597", 1214, 118, 11, "black"),
    ("Altitude: 12660 - 16220 m    (float 408 h)", 1215, 141, 11, "black"),
    ("Latitude range: 4.40 to 31.90", 1215, 164.5, 11, "black"),
    ("Path length: 66,743 km", 1215, 187.5, 11, "black"),
    ("Position source: Maidenhead 6-char grid    σ(E,N) = 3563, 1836 m", 1214, 210.5, 11, "black"),
    ("Median sampling gap: 10 min    Longest gap: 17.5 h", 1214, 233.5, 11, "black"),
    ("Data quality score: 0.939", 1214, 258.5, 13, "#1a5276"),
    ("precision=0.92   cadence=1.00   agreement=1.00   stability=0.97   coverage=0.84", 1218, 278.5, 9, "#555555"),
]


def to_dates(days):
    return [START + timedelta(days=d) for d in days]


def axes_px(fig, left, top, right, bottom):
    return fig.add_axes([left / W, 1 - bottom / H, (right - left) / W, (bottom - top) / H])


def date_axis(ax, xlim):
    ax.set_xlim(mdates.date2num(to_dates(xlim)))
    ax.set_xticks(to_dates(tick_days))
    ax.xaxis.set_major_formatter(mdates.DateFormatter("%y-%m-%d"))
    ax.tick_params(axis="x", labelrotation=20)
    ax.grid(True, color="#b0b0b0", alpha=0.4, lw=0.8)
    ax.set_axisbelow(True)


fig = plt.figure(figsize=(W / 100, H / 100), dpi=100)

# flight track
ax = axes_px(fig, 83, 31.5, 788, 338)
ax.set_facecolor("#d4e6f1")
for part in LAND:
    ax.add_patch(Polygon(part, closed=True, fc="#e8e8e4", ec="#c0c6c8", lw=0.7, zorder=1))
for part in LAKES:
    ax.add_patch(Polygon(part, closed=True, fc="#d4e6f1", ec="#c0c6c8", lw=0.4, zorder=1.1))
for part in BORDERS:
    ax.plot([p[0] for p in part], [p[1] for p in part], color="#dddfdb", lw=0.5, zorder=1.2)
ax.scatter(track_lon, track_lat, s=11, color="#c0392b", zorder=3, label="Track")
ax.scatter([launch_lon], [launch_lat], s=130, color="#27ae60", edgecolor="black", lw=1.2, zorder=5, label="Launch")
ax.scatter([last_lon], [last_lat], s=220, marker="*", color="#2471a3", edgecolor="black", lw=1.2, zorder=5, label="Last fix")
ax.set_xlim(-180, 180)
ax.set_ylim(-90, 90)
ax.set_xticks(range(-180, 181, 60))
ax.set_yticks(range(-90, 91, 30))
ax.grid(True, color="#8a9aa0", alpha=0.3, lw=0.6, ls="--", zorder=2)
ax.set_xlabel("Longitude (deg)", labelpad=5)
ax.set_ylabel("Latitude (deg)")
ax.set_title("Flight Track", fontsize=12)
ax.legend(loc="lower left", fontsize=8)

# summary text
for text, x, y, size, color in summary:
    fig.text(x / W, 1 - y / H, text, ha="center", va="center", fontsize=size, color=color)

# wind speed
ax = axes_px(fig, 83, 421, 788, 727)
wind_low = [v - s for v, s in zip(wind_speed, wind_sigma)]
wind_high = [v + s for v, s in zip(wind_speed, wind_sigma)]
ax.fill_between(to_dates(wind_days), wind_low, wind_high, color="#7f9095", alpha=0.35, lw=0.5, label="±1σ propagated error")
ax.scatter(to_dates(wind_days + dense_days), wind_speed + dense_speed, s=6, color="#2c3e50", zorder=3, label="Wind speed")
ax.plot(to_dates(mean_days), wind_mean, color="#c0392b", lw=1.3, zorder=4, label="Daily mean")
date_axis(ax, [-1.04, 21.81])
ax.set_ylim(0, 100)
ax.set_ylabel("Wind speed (m s$^{-1}$)")
ax.set_title("Wind Speed vs. Time", fontsize=12)
ax.legend(loc="upper right", fontsize=8)

# latitude
ax = axes_px(fig, 862, 421, 1567.5, 727)
ax.scatter(to_dates(lat_days), lat_values, s=10, color="black", zorder=3)
date_axis(ax, [-0.37, 21.78])
ax.set_ylim(-90, 90)
ax.set_yticks(range(-90, 91, 30))
ax.set_ylabel("Latitude (deg)")
ax.set_title("Latitude vs. Time", fontsize=12)

# altitude
ax = axes_px(fig, 83, 808, 788, 1115)
ax.scatter(to_dates(alt_days), alt_values, s=5, color="#7f8c8d", zorder=3)
ax.plot(to_dates(mean_days), alt_mean, color="#c0392b", lw=1.4, zorder=4)
date_axis(ax, [-1.04, 21.81])
ax.set_ylim(12658, 14907)
ax.set_yticks(range(12750, 14751, 250))
ax.set_xlabel("UTC date")
ax.set_ylabel("Altitude (m AMSL)")
ax.set_title("Balloon Altitude vs. Time", fontsize=12)

# u and v histogram
ax = axes_px(fig, 862, 808, 1567.5, 1115)
ax.bar(bin_left, u_counts, width=5, align="edge", color="#1f77b4", alpha=0.65, edgecolor="black", lw=1, label="U (zonal)")
ax.bar(bin_left, v_counts, width=5, align="edge", color="#ff7f0e", alpha=0.65, edgecolor="black", lw=1, label="V (meridional)")
ax.set_xlim(-100, 100)
ax.set_ylim(0, 161.7)
ax.set_xticks(range(-100, 101, 25))
ax.set_yticks(range(0, 161, 20))
ax.grid(True, color="#b0b0b0", alpha=0.4, lw=0.8)
ax.set_axisbelow(True)
ax.set_xlabel("Wind speed (m s$^{-1}$)")
ax.set_ylabel("Frequency")
ax.set_title("U and V Wind Components", fontsize=12)
ax.legend(loc="upper right", fontsize=8)

fig.savefig("out.png", dpi=100)
